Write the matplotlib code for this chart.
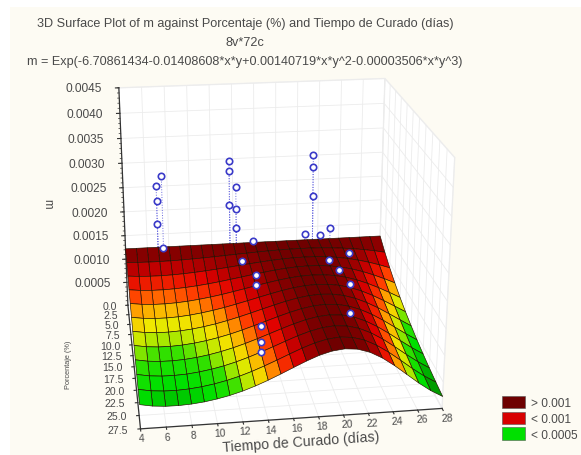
import numpy as np
import matplotlib
matplotlib.use("Agg")
import matplotlib.pyplot as plt
from matplotlib.colors import LinearSegmentedColormap, Normalize
from matplotlib.patches import Patch, Rectangle
from mpl_toolkits.mplot3d import proj3d

plt.rcParams["font.family"] = ["Liberation Sans", "DejaVu Sans"]

title_lines = ["3D Surface Plot of m against Porcentaje (%) and Tiempo de Curado (días)",
               "8v*72c",
               "m = Exp(-6.70861434-0.01408608*x*y+0.00140719*x*y^2-0.00003506*x*y^3)"]

# axis values
tiempo = [4, 6, 8, 10, 12, 14, 16, 18, 20, 22, 24, 26, 28]
tiempo_grid = [4, 5, 6, 7, 8, 9, 10, 11, 12, 13, 14, 15, 16, 17, 18, 19, 20, 21, 22, 23, 24, 25, 26, 27, 28]
porcentaje = [0.0, 2.5, 5.0, 7.5, 10.0, 12.5, 15.0, 17.5, 20.0, 22.5, 25.0, 27.5]
m_ticks = [0.0005, 0.0010, 0.0015, 0.0020, 0.0025, 0.0030, 0.0035, 0.0040, 0.0045]

# surface, in 1e-5 units, one row per porcentaje, one column per tiempo_grid
m_table = [
    [122.0, 122.0, 122.0, 122.0, 122.0, 122.0, 122.0, 122.0, 122.0, 122.0, 122.0, 122.0, 122.0, 122.0, 122.0, 122.0, 122.0, 122.0, 122.0, 122.0, 122.0, 122.0, 122.0, 122.0, 122.0],
    [111.5, 110.5, 110.0, 109.9, 110.2, 110.8, 111.7, 112.8, 114.0, 115.4, 116.8, 118.1, 119.4, 120.5, 121.4, 122.0, 122.2, 122.0, 121.4, 120.1, 118.3, 115.9, 112.8, 109.1, 104.8],
    [101.9, 100.1, 99.2, 99.0, 99.6, 100.7, 102.3, 104.3, 106.6, 109.1, 111.7, 114.3, 116.8, 119.0, 120.7, 121.9, 122.4, 122.0, 120.7, 118.3, 114.8, 110.1, 104.4, 97.6, 90.0],
    [93.1, 90.6, 89.4, 89.2, 90.0, 91.5, 93.7, 96.4, 99.6, 103.2, 106.9, 110.7, 114.2, 117.5, 120.1, 121.9, 122.6, 122.1, 120.1, 116.5, 111.4, 104.6, 96.5, 87.3, 77.3],
    [85.1, 82.1, 80.6, 80.4, 81.3, 83.1, 85.8, 89.2, 93.1, 97.6, 102.3, 107.1, 111.8, 116.0, 119.5, 121.9, 122.8, 122.1, 119.4, 114.7, 108.0, 99.4, 89.3, 78.1, 66.4],
    [77.7, 74.4, 72.7, 72.5, 73.4, 75.5, 78.6, 82.4, 87.0, 92.3, 97.9, 103.7, 109.3, 114.6, 118.9, 121.8, 123.0, 122.1, 118.8, 112.9, 104.8, 94.5, 82.6, 69.9, 57.1],
    [71.0, 67.3, 65.5, 65.3, 66.4, 68.6, 72.0, 76.2, 81.4, 87.3, 93.7, 100.4, 107.0, 113.1, 118.3, 121.8, 123.3, 122.1, 118.2, 111.2, 101.6, 89.8, 76.4, 62.5, 49.0],
    [64.9, 61.0, 59.1, 58.8, 60.0, 62.4, 65.9, 70.5, 76.0, 82.5, 89.7, 97.2, 104.7, 111.7, 117.6, 121.7, 123.5, 122.2, 117.5, 109.5, 98.6, 85.3, 70.7, 55.9, 42.1],
    [59.3, 55.2, 53.3, 53.0, 54.2, 56.7, 60.4, 65.2, 71.1, 78.0, 85.8, 94.1, 102.4, 110.3, 117.0, 121.7, 123.7, 122.2, 116.9, 107.8, 95.6, 81.0, 65.4, 50.0, 36.2],
    [54.2, 50.0, 48.0, 47.8, 48.9, 51.5, 55.3, 60.2, 66.4, 73.8, 82.1, 91.0, 100.2, 109.0, 116.4, 121.7, 123.9, 122.2, 116.3, 106.2, 92.8, 77.0, 60.5, 44.8, 31.1],
    [49.5, 45.3, 43.3, 43.0, 44.2, 46.8, 50.6, 55.7, 62.1, 69.8, 78.6, 88.1, 98.0, 107.6, 115.8, 121.6, 124.1, 122.2, 115.7, 104.5, 90.0, 73.2, 55.9, 40.0, 26.7],
    [45.3, 41.0, 39.0, 38.8, 40.0, 42.5, 46.4, 51.5, 58.0, 66.0, 75.2, 85.3, 95.9, 106.2, 115.3, 121.6, 124.3, 122.3, 115.1, 103.0, 87.3, 69.5, 51.7, 35.8, 22.9],
]

# observed points
pts_t = [7, 7.5, 7, 7, 7.5,
         13.7, 13.7, 14.3, 13.7, 14.3, 14.3, 15.85, 14.3, 15, 15, 14.3, 14.3, 14.3,
         21.5, 21.5, 21.5, 20.75, 22.25, 22.35, 22.9, 22.3, 22.1, 22.0, 20.3]
pts_p = [0, 0, 0, 0, 0,
         0, 0, 0, 0, 0, 0, 0, 5, 10, 10, 20, 20, 20,
         0, 0, 0, 0, 0, 5, 12, 5, 12, 18, 27.5]
pts_m = [0.0025, 0.0027, 0.0022, 0.00172, 0.0012,
         0.00295, 0.00275, 0.0024, 0.00205, 0.00195, 0.00155, 0.00125, 0.0012, 0.0013, 0.00108, 0.0011, 0.0008, 0.0006,
         0.0030, 0.00275, 0.00215, 0.00135, 0.0013, 0.0018, 0.00178, 0.00113, 0.00145, 0.00165, 0.0019]

legend_labels = ["> 0.001", "< 0.001", "< 0.0005"]
legend_colors = ["#6e0000", "#d80000", "#00e000"]

cm_levels = [20, 32, 46, 56, 62, 70, 80, 88, 100, 110, 122]
cm_colors = ["#006000", "#00a000", "#00e000", "#30e000", "#a8e800", "#f0e800",
             "#ffa000", "#ff4000", "#e00000", "#a00000", "#700000"]
lo, hi = cm_levels[0], cm_levels[-1]
cmap = LinearSegmentedColormap.from_list(
    "stat", [((v - lo) / (hi - lo), c) for v, c in zip(cm_levels, cm_colors)])

fig = plt.figure(figsize=(5.81, 4.56), dpi=100, facecolor="white")
fig.patches.append(Rectangle((10 / 581, 0), 1, 1 - 8 / 456, transform=fig.transFigure,
                             facecolor="#fdfbf3", edgecolor="none", zorder=-5))

ax = fig.add_axes([-0.042, -0.042, 1.0, 1.0], projection="3d", computed_zorder=False)
ax.patch.set_alpha(0)
ax.set_xlim(4, 28)
ax.set_ylim(27.5, 0)
ax.set_zlim(0, 0.0045)
ax.set_box_aspect((300, 300, 262), zoom=1.01)
ax.view_init(elev=21, azim=-98)
ax.set_proj_type("persp", focal_length=0.55)

X, Y = np.meshgrid(tiempo_grid, porcentaje)
Z = np.array(m_table) * 1e-5
ax.plot_surface(X, Y, Z, cmap=cmap, norm=Normalize(lo * 1e-5, hi * 1e-5), rstride=1, cstride=1,
                edgecolor="#201000", linewidth=0.45, shade=False, antialiased=True, zorder=3)

for a in [ax.xaxis, ax.yaxis, ax.zaxis]:
    a.set_pane_color("white")
    a.pane.set_edgecolor("#f0f0f0")
    a.line.set_color((1, 1, 1, 0))
    a._axinfo["grid"]["color"] = "#ececec"
    a._axinfo["grid"]["linewidth"] = 0.6
    a._axinfo["tick"]["inward_factor"] = 0
    a._axinfo["tick"]["outward_factor"] = 0
ax.set_xticks(tiempo)
ax.set_yticks(porcentaje)
ax.set_zticks(m_ticks)
ax.set_xticklabels([])
ax.set_yticklabels([])
ax.set_zticklabels([])

axis_col = "#333333"
txt_col = "#4a4a4a"
proj = ax.get_proj()


def label3d(x, y, z, s, **kw):
    # plain 2D text at the projected spot of a data point
    px, py, _ = proj3d.proj_transform(x, y, z, proj)
    ax.text2D(px, py, s, transform=ax.transData, color=txt_col, **kw)


ax.plot([4, 4], [0, 0], [0, 0.0045], color=axis_col, lw=0.9, zorder=2)
ax.plot([4, 4], [0, 27.5], [0, 0], color=axis_col, lw=0.9, zorder=2)
ax.plot([4, 28], [27.5, 27.5], [0, 0], color=axis_col, lw=0.9, zorder=2)

for v in m_ticks:
    ax.plot([3.7, 4], [0, 0], [v, v], color=axis_col, lw=0.8, zorder=2)
    label3d(2.5, 0, v, "%.4f" % v, ha="right", va="center", fontsize=8.6)
for v in np.arange(0, 0.00451, 0.0001):
    ax.plot([3.85, 4], [0, 0], [v, v], color=axis_col, lw=0.5, zorder=2)
for v in porcentaje:
    ax.plot([3.8, 4], [v, v], [0, 0], color=axis_col, lw=0.8, zorder=2)
    label3d(3.0, v, 0, "%.1f" % v, ha="right", va="center", fontsize=7.6)
for v in tiempo:
    ax.plot([v, v], [27.5, 27.9], [0, 0], color=axis_col, lw=0.8, zorder=2)
    label3d(v, 29.2, 0, str(v), ha="center", va="center", fontsize=7.6, rotation=3)

# drop lines end on the surface, points go on top of it
for t, p, m in zip(pts_t, pts_p, pts_m):
    i = porcentaje.index(min(porcentaje, key=lambda q: abs(q - p)))
    j = tiempo_grid.index(min(tiempo_grid, key=lambda q: abs(q - t)))
    ax.plot([t, t], [p, p], [Z[i, j], m], color="#6a6ae0", lw=0.7, ls=":", zorder=2)
ax.plot(pts_t, pts_p, pts_m, ls="none", marker="o", ms=4.6, mfc="white", mec="#3a3ac8", mew=1.2, zorder=4)

for s, py in zip(title_lines, [24, 43, 62]):
    fig.text(245 / 581, 1 - py / 456, s, ha="center", va="center", fontsize=9.1, color=txt_col)

fig.text(47 / 581, 1 - 204 / 456, "m", rotation=270, ha="center", va="center", fontsize=8.4, color=txt_col)
fig.text(69 / 581, 1 - 365 / 456, "Porcentaje (%)", rotation=90, ha="center", va="center", fontsize=5.3, color=txt_col)
fig.text(301 / 581, 1 - 443 / 456, "Tiempo de Curado (días)", rotation=4, ha="center", va="center",
         fontsize=10.2, color=txt_col)

handles = [Patch(facecolor=c, edgecolor="#555555", linewidth=0.4) for c in legend_colors]
fig.legend(handles, legend_labels, loc="lower left", bbox_to_anchor=(500 / 581, 1 - 444 / 456), frameon=False,
           fontsize=8.6, labelcolor=txt_col, handlelength=1.9, handleheight=1.25, handletextpad=0.5,
           labelspacing=0.2, borderpad=0.2, borderaxespad=0)

fig.savefig("out.png", dpi=100, facecolor=fig.get_facecolor())
